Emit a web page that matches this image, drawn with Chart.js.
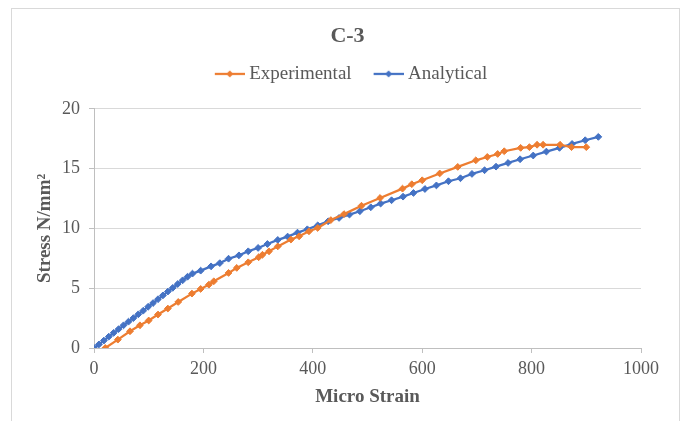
<!DOCTYPE html>
<html>
<head>
<meta charset="utf-8">
<script src="https://cdn.jsdelivr.net/npm/chart.js@4.4.1/dist/chart.umd.min.js"></script>
<style>
  html,body{margin:0;padding:0;background:#fff;}
  #wrap{position:relative;width:683px;height:421px;overflow:hidden;}
  #frame{position:absolute;left:11px;top:8px;width:669px;height:430px;border:1px solid #d9d9d9;box-sizing:border-box;}
  canvas{position:absolute;left:0;top:0;}
</style>
</head>
<body>
<div id="wrap"><div id="frame"></div><canvas id="c" width="683" height="421"></canvas></div>
<script>
const title = "C-3";
const xTitle = "Micro Strain";
const yTitle = "Stress N/mm\u00B2";
const xTicks = [0, 200, 400, 600, 800, 1000];
const yTicks = [0, 5, 10, 15, 20];

const expStrain = [20.6,43.6,65.8,84,100,117,135,154,179,195,210,219,246,261,282,301,308,320,336,360,375,393,409,433,457,489,523,564,581,600,632,665,698,719,738,750,780,796,810,821,852,873,900];
const expStress = [0,0.7,1.4,1.9,2.3,2.8,3.3,3.85,4.55,4.94,5.3,5.58,6.28,6.7,7.17,7.59,7.8,8.09,8.5,9.07,9.34,9.76,10.04,10.7,11.2,11.9,12.55,13.33,13.7,14.03,14.6,15.15,15.7,15.98,16.23,16.46,16.74,16.8,17.0,17.0,17.0,16.8,16.8];

const anaStrain = [0,9,18,27,36,45,54,63,72,81,90,99,108,117,126,135,144,153,162,171,180,195,214,230,246,265,282,300,317,336,354,372,390,409,428,448,467,486,506,524,544,565,584,605,626,648,670,691,714,735,757,779,803,827,851,874,898,922];
const anaStress = [0,0.3,0.62,0.95,1.27,1.58,1.9,2.2,2.5,2.82,3.12,3.45,3.76,4.08,4.4,4.72,5.03,5.35,5.66,5.96,6.22,6.47,6.83,7.1,7.47,7.75,8.09,8.37,8.7,9.04,9.32,9.65,9.93,10.26,10.6,10.88,11.16,11.44,11.77,12.08,12.36,12.66,12.97,13.3,13.6,13.95,14.2,14.56,14.87,15.17,15.48,15.79,16.1,16.43,16.74,17.07,17.38,17.66];

const seriesNames = ["Experimental", "Analytical"];
const seriesColors = ["#ED7D31", "#4472C4"];

const FONT = "'Liberation Serif', 'Times New Roman', serif";
const GREY = "#595959";

function legendIcon(color){
  const c = document.createElement('canvas');
  c.width = 42; c.height = 10;
  const g = c.getContext('2d');
  g.strokeStyle = color; g.lineWidth = 2.25;
  g.beginPath(); g.moveTo(12,5); g.lineTo(42,5); g.stroke();
  g.fillStyle = color;
  g.beginPath(); g.moveTo(27,1.5); g.lineTo(30.5,5); g.lineTo(27,8.5); g.lineTo(23.5,5); g.closePath(); g.fill();
  return c;
}

const toPts = (xs, ys) => xs.map((x, i) => ({x: x, y: ys[i]}));

const ds = (name, color, pts) => ({
  label: name,
  data: pts,
  showLine: true,
  borderColor: color,
  backgroundColor: color,
  borderWidth: 2.25,
  pointStyle: 'rectRot',
  pointRadius: 3.4,
  pointBorderWidth: 1,
  pointHoverRadius: 3.4,
  tension: 0,
  yAxisID: 'y'
});

const icons = seriesColors.map(legendIcon);

const legendExtra = {
  id: 'legendExtra',
  beforeInit(chart) {
    const lg = chart.legend;
    if (!lg) return;
    const orig = lg.fit;
    lg.fit = function() { orig.call(this); this.height += 15.5; };
  }
};

new Chart(document.getElementById('c'), {
  type: 'scatter',
  plugins: [legendExtra],
  data: {
    datasets: [
      ds(seriesNames[0], seriesColors[0], toPts(expStrain, expStress)),
      ds(seriesNames[1], seriesColors[1], toPts(anaStrain, anaStress))
    ]
  },
  options: {
    responsive: false,
    animation: false,
    devicePixelRatio: 1,
    layout: {padding: {left: 14, right: 2, top: 8, bottom: 8}},
    plugins: {
      tooltip: {enabled: false},
      title: {
        display: true, text: title, color: GREY,
        font: {family: FONT, size: 22, weight: 'bold'},
        padding: {top: 15, bottom: 0}
      },
      legend: {
        display: true,
        labels: {
          color: GREY,
          font: {family: FONT, size: 19},
          usePointStyle: true,
          pointStyleWidth: 32,
          boxHeight: 10,
          padding: 15,
          generateLabels: (chart) => chart.data.datasets.map((d, i) => ({
            text: d.label, fillStyle: d.borderColor, strokeStyle: d.borderColor,
            pointStyle: icons[i], datasetIndex: i, hidden: false, fontColor: GREY, lineWidth: 0
          }))
        }
      }
    },
    scales: {
      x: {
        type: 'linear', min: 0, max: 1000,
        afterBuildTicks: (s) => { s.ticks = xTicks.map(v => ({value: v})); },
        afterFit: (s) => { s.height = 65; },
        ticks: {color: GREY, font: {family: FONT, size: 18}, padding: 5, maxRotation: 0, callback: (v) => String(v)},
        grid: {display: true, drawOnChartArea: false, drawTicks: true, tickLength: 5, color: '#bfbfbf'},
        border: {display: true, color: '#bfbfbf', width: 1},
        title: {display: true, text: xTitle, color: GREY, font: {family: FONT, size: 19, weight: 'bold'}, padding: {top: 0, bottom: 5}}
      },
      y: {
        type: 'linear', min: 0, max: 20,
        afterBuildTicks: (s) => { s.ticks = yTicks.map(v => ({value: v})); },
        afterFit: (s) => { s.width = 80; },
        ticks: {color: GREY, font: {family: FONT, size: 18}, padding: 9, callback: (v) => String(v)},
        grid: {display: true, drawTicks: true, tickLength: 5, color: '#d9d9d9', tickColor: '#bfbfbf'},
        border: {display: true, color: '#bfbfbf', width: 1},
        title: {display: true, text: yTitle, color: GREY, font: {family: FONT, size: 19, weight: 'bold'}, padding: {top: 20, bottom: 0}}
      },
      yR: {
        type: 'linear', position: 'right', min: 0, max: 20, display: true,
        afterFit: (s) => { s.width = 40; },
        ticks: {display: false},
        grid: {display: false, drawTicks: false},
        border: {display: false},
        title: {display: false}
      }
    }
  }
});
</script>
</body>
</html>
